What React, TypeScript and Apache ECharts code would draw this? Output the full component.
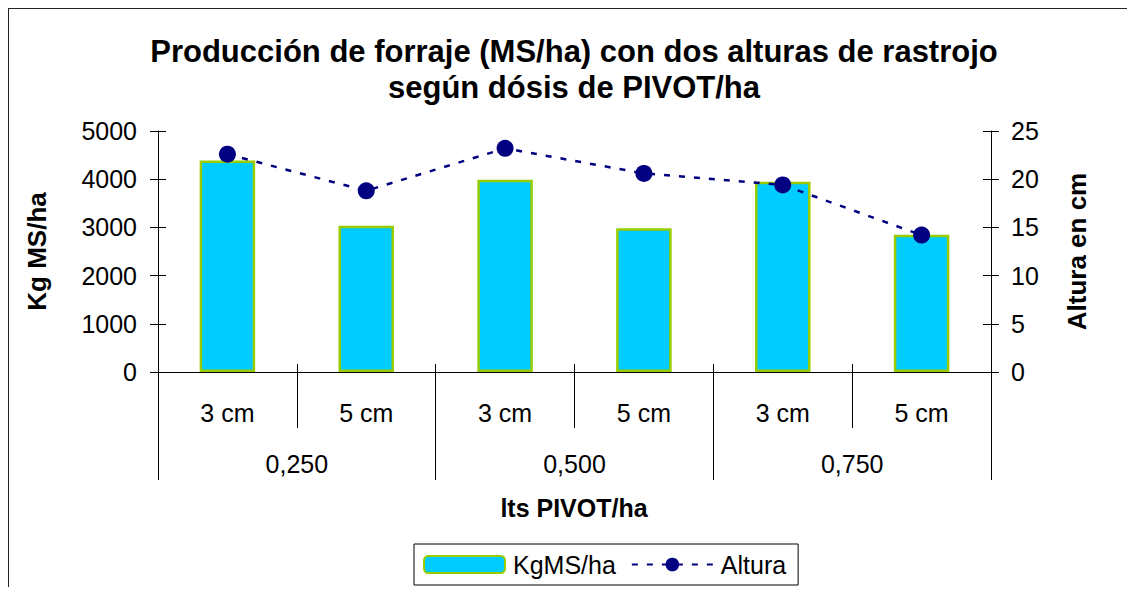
import React, { useEffect, useRef } from "react";
import * as echarts from "echarts";

const categories = ["3 cm", "5 cm", "3 cm", "5 cm", "3 cm", "5 cm"];
const groups = ["0,250", "0,500", "0,750"];
const kgMS = [4390, 3035, 3990, 2980, 3945, 2850];
const altura = [22.6, 18.8, 23.2, 20.6, 19.4, 14.2];

const FONT = "'Liberation Sans', Arial, Helvetica, sans-serif";

export default function App() {
  const ref = useRef<HTMLDivElement>(null);
  useEffect(() => {
    if (!ref.current) return;
    const chart = echarts.init(ref.current, null, { renderer: "svg" });
    const axisCommonText = { color: "#000", fontSize: 25, fontFamily: FONT };
    const option: any = {
      animation: false,
      backgroundColor: "#fff",
      textStyle: { fontFamily: FONT },
      graphic: [
        {
          type: "rect",
          shape: { x: 0, y: 0, width: 1140, height: 600 },
          style: { fill: "none", stroke: "#222", lineWidth: 2 },
          silent: true,
          z: 100,
        },
        {
          type: "text",
          x: 566,
          y: 25,
          style: {
            text: "Producción de forraje (MS/ha) con dos alturas de rastrojo\nsegún dósis de PIVOT/ha",
            align: "center",
            verticalAlign: "top",
            fill: "#000",
            font: `bold 31px ${FONT}`,
            lineHeight: 36,
          },
        },
        {
          type: "text",
          x: 566,
          y: 500,
          style: {
            text: "lts PIVOT/ha",
            align: "center",
            verticalAlign: "middle",
            fill: "#000",
            font: `bold 25px ${FONT}`,
          },
        },
      ],
      legend: {
        left: 406,
        top: 536,
        orient: "horizontal",
        borderColor: "#000",
        borderWidth: 1,
        padding: [8, 12, 8, 9],
        itemGap: 15,
        itemWidth: 81,
        itemHeight: 17,
        textStyle: { color: "#000", fontSize: 25, fontFamily: FONT, padding: [0, 0, 0, 3] },
        data: ["KgMS/ha", "Altura"],
      },
      grid: { left: 150, top: 123, right: 136, bottom: 215, containLabel: false },
      xAxis: [
        {
          type: "category",
          data: categories,
          position: "bottom",
          boundaryGap: true,
          axisLine: { show: true, lineStyle: { color: "#000", width: 1 } },
          axisTick: { show: true, interval: 0, length: 56, lineStyle: { color: "#000" } },
          axisLabel: { ...axisCommonText, margin: 28, interval: 0 },
          splitLine: { show: false },
        },
        {
          type: "category",
          data: categories,
          position: "bottom",
          axisLine: { show: false },
          axisTick: { show: true, inside: true, interval: 0, length: 8, lineStyle: { color: "#000" } },
          axisLabel: { show: false },
          splitLine: { show: false },
        },
        {
          type: "category",
          data: groups,
          position: "bottom",
          axisLine: { show: false },
          axisTick: { show: true, interval: 0, length: 108, lineStyle: { color: "#000" } },
          axisLabel: { ...axisCommonText, margin: 79, interval: 0 },
          splitLine: { show: false },
        },
      ],
      yAxis: [
        {
          type: "value",
          position: "left",
          min: 0,
          max: 5000,
          interval: 1000,
          name: "Kg MS/ha",
          nameLocation: "middle",
          nameRotate: 90,
          nameGap: 108,
          nameTextStyle: { color: "#000", fontSize: 26, fontWeight: "bold", fontFamily: FONT },
          axisLine: { show: true, lineStyle: { color: "#000", width: 1 } },
          axisTick: { show: true, length: 8, lineStyle: { color: "#000" } },
          axisLabel: { ...axisCommonText, margin: 21, formatter: (v: number) => String(v) },
          splitLine: { show: false },
        },
        {
          type: "value",
          position: "left",
          min: 0,
          max: 5000,
          interval: 1000,
          axisLine: { show: false },
          axisTick: { show: true, inside: true, length: 8, lineStyle: { color: "#000" } },
          axisLabel: { show: false },
          splitLine: { show: false },
        },
        {
          type: "value",
          position: "right",
          min: 0,
          max: 25,
          interval: 5,
          name: "Altura en cm",
          nameLocation: "middle",
          nameRotate: 90,
          nameGap: 73,
          nameTextStyle: { color: "#000", fontSize: 26, fontWeight: "bold", fontFamily: FONT },
          axisLine: { show: true, lineStyle: { color: "#000", width: 1 } },
          axisTick: { show: true, length: 8, lineStyle: { color: "#000" } },
          axisLabel: { ...axisCommonText, margin: 20, formatter: (v: number) => String(v) },
          splitLine: { show: false },
        },
        {
          type: "value",
          position: "right",
          min: 0,
          max: 25,
          interval: 5,
          axisLine: { show: false },
          axisTick: { show: true, inside: true, length: 8, lineStyle: { color: "#000" } },
          axisLabel: { show: false },
          splitLine: { show: false },
        },
      ],
      series: [
        {
          name: "KgMS/ha",
          type: "bar",
          xAxisIndex: 0,
          yAxisIndex: 0,
          data: kgMS,
          barWidth: "40%",
          itemStyle: { color: "#00CCFF", borderColor: "#99CC00", borderWidth: 2.5 },
        },
        {
          name: "Altura",
          type: "line",
          xAxisIndex: 0,
          yAxisIndex: 2,
          data: altura,
          symbol: "circle",
          symbolSize: 17,
          itemStyle: { color: "#000080" },
          lineStyle: { color: "#000080", width: 2.5, type: [6, 9] },
          z: 5,
        },
      ],
    };
    chart.setOption(option);
    return () => chart.dispose();
  }, []);
  return <div ref={ref} style={{ width: 1119, height: 579 }} />;
}
